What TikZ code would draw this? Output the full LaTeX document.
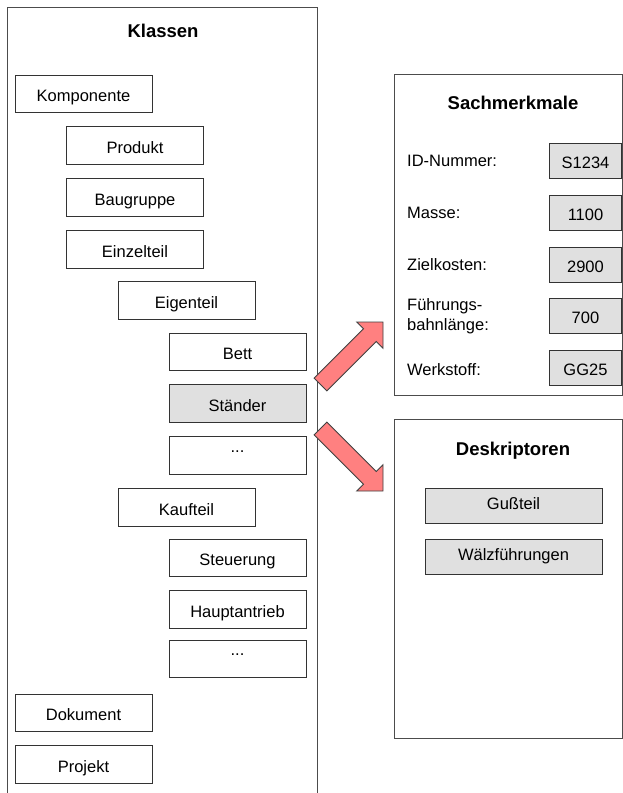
\documentclass[tikz,border=0pt]{standalone}
\usepackage{fontspec}
\setmainfont{Liberation Sans}
\begin{document}
\begin{tikzpicture}[x=1pt,y=-1pt,
  line join=miter,
  panel/.style={draw=black!70, line width=0.9pt},
  box/.style={draw=black!80, line width=0.9pt, fill=white, minimum width=137pt, minimum height=37.5pt, inner sep=0pt, text height=15pt, text depth=0pt, font=\fontsize{16.5}{19}\selectfont},
  gbox/.style={box, fill=black!12},
  vbox/.style={draw=black!80, line width=0.9pt, fill=black!12, minimum width=72pt, minimum height=35pt, inner sep=0pt, text height=15pt, text depth=0pt, font=\fontsize{16.5}{19}\selectfont},
  dbox/.style={vbox, minimum width=177pt, text height=8pt},
  ttl/.style={font=\fontsize{18.5}{21}\selectfont\bfseries, inner sep=0pt},
  lbl/.style={anchor=west, inner sep=0pt, align=left, font=\fontsize{16.5}{20}\selectfont},
  bigarrow/.style={fill=red!50, draw=black!75, line width=0.9pt, line join=miter}
]
\useasboundingbox (0,0) rectangle (623,793);
\fill[white] (0,0) rectangle (623,793);

% Left panel: Klassen
\draw[panel] (7,793) -- (7,7) -- (317.5,7) -- (317.5,793);
\node[ttl] (klassen) at (163,31) {Klassen};

\node[box] (komp) at (83.5,94) {Komponente};
\node[box] (prod) at (135,145.5) {Produkt};
\node[box] (baug) at (135,197.5) {Baugruppe};
\node[box] (einz) at (135,249.5) {Einzelteil};
\node[box] (eigen) at (186.5,300.5) {Eigenteil};
\node[box] (bett) at (237.5,352) {Bett};
\node[gbox] (staender) at (237.5,403.5) {Ständer};
\node[box] (dots1) at (237.5,455.5) {\raisebox{11pt}{...}};
\node[box] (kauf) at (186.5,507.5) {Kaufteil};
\node[box] (steu) at (237.5,558) {Steuerung};
\node[box] (haupt) at (237.5,609.5) {Hauptantrieb};
\node[box] (dots2) at (237.5,659) {\raisebox{11pt}{...}};
\node[box] (dok) at (83.5,713) {Dokument};
\node[box] (proj) at (83.5,764.5) {Projekt};

% Sachmerkmale panel
\draw[panel] (394,74.5) rectangle (622.5,395);
\node[ttl] (sach) at (513,103) {Sachmerkmale};
\node[lbl] (l1) at (407,161) {ID-Nummer:};
\node[lbl] (l2) at (407,213) {Masse:};
\node[lbl] (l3) at (407,265) {Zielkosten:};
\node[lbl] (l4) at (407,316) {Führungs-\\bahnlänge:};
\node[lbl] (l5) at (407,369.5) {Werkstoff:};
\node[vbox] (v1) at (585.5,160.5) {S1234};
\node[vbox] (v2) at (585.5,212.5) {1100};
\node[vbox] (v3) at (585.5,264.5) {2900};
\node[vbox] (v4) at (585.5,315.5) {700};
\node[vbox] (v5) at (585.5,367.5) {GG25};

% Deskriptoren panel
\draw[panel] (394,419.5) rectangle (622.5,738);
\node[ttl] (desk) at (513,451) {Deskriptoren};
\node[dbox] (guss) at (513.5,505.5) {Gußteil};
\node[dbox] (waelz) at (513.5,556.5) {Wälzführungen};

% Block arrows
\draw[bigarrow] (314.1,378.1) -- (363.5,328.7) -- (356.8,322) -- (383,322)
  -- (383,348.2) -- (376.3,341.5) -- (326.9,390.9) -- cycle;
\draw[bigarrow] (314.1,434.9) -- (363.5,484.3) -- (356.8,491) -- (383,491)
  -- (383,464.8) -- (376.3,471.5) -- (326.9,422.1) -- cycle;
\end{tikzpicture}
\end{document}
